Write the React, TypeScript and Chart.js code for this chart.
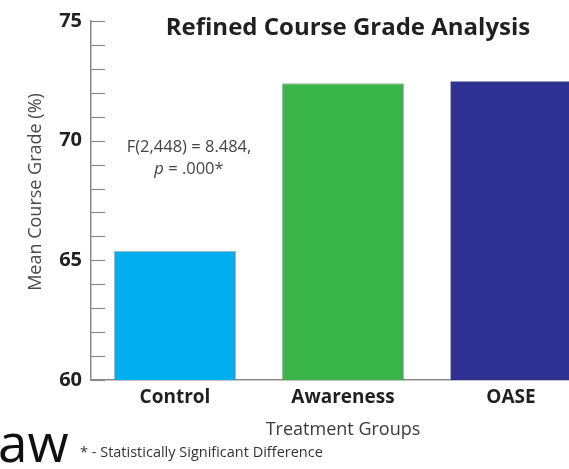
import React, { useEffect, useRef } from "react";
import { Chart, registerables } from "chart.js";

Chart.register(...registerables);

const categories = ["Control", "Awareness", "OASE"];
const meanGrades = [65.4, 72.4, 72.5];
const barColors = ["#00AEEF", "#39B54A", "#2E3192"];
const yMin = 60;
const yMax = 75;
const chartTitle = "Refined Course Grade Analysis";
const yTitle = "Mean Course Grade (%)";
const xTitle = "Treatment Groups";
const statLine1 = "F(2,448) = 8.484,";
const statLine2P = "p";
const statLine2Rest = " = .000*";
const footnote = "* - Statistically Significant Difference";
const fragment = "aw";

const FONT = '"Open Sans", "DejaVu Sans", sans-serif';

const innerTicks = {
  id: "innerTicks",
  afterDatasetsDraw(chart: any) {
    const { ctx } = chart;
    const y = chart.scales.y;
    const left = chart.chartArea.left;
    ctx.save();
    ctx.strokeStyle = "#8a8a8a";
    ctx.lineWidth = 1.2;
    y.ticks.forEach((t: any) => {
      const py = Math.round(y.getPixelForValue(t.value)) + 0.5;
      ctx.beginPath();
      ctx.moveTo(left, py);
      ctx.lineTo(left + 14, py);
      ctx.stroke();
    });
    ctx.restore();
  },
};

const texts = {
  id: "texts",
  afterDraw(chart: any) {
    const { ctx } = chart;
    ctx.save();
    // title
    ctx.fillStyle = "#231f20";
    ctx.font = `bold 24px ${FONT}`;
    ctx.textAlign = "center";
    ctx.textBaseline = "middle";
    ctx.fillText(chartTitle, 348, 28);

    // y axis title
    ctx.save();
    ctx.translate(36, 192);
    ctx.rotate(-Math.PI / 2);
    ctx.fillStyle = "#4a4a4a";
    ctx.font = `18px ${FONT}`;
    ctx.fillText(yTitle, 0, 0);
    ctx.restore();

    // stats annotation
    ctx.fillStyle = "#444";
    ctx.font = `16.5px ${FONT}`;
    ctx.fillText(statLine1, 189, 147);
    ctx.font = `italic 16.5px ${FONT}`;
    const wp = ctx.measureText(statLine2P).width;
    ctx.font = `16.5px ${FONT}`;
    const wr = ctx.measureText(statLine2Rest).width;
    const startX = 189 - (wp + wr) / 2;
    ctx.textAlign = "left";
    ctx.font = `italic 16.5px ${FONT}`;
    ctx.fillText(statLine2P, startX, 169);
    ctx.font = `16.5px ${FONT}`;
    ctx.fillText(statLine2Rest, startX + wp, 169);

    // footnote
    ctx.fillStyle = "#333";
    ctx.font = `14.5px ${FONT}`;
    ctx.textBaseline = "alphabetic";
    ctx.fillText(footnote, 80, 457);

    // fragment
    ctx.fillStyle = "#111";
    ctx.font = `53px ${FONT}`;
    ctx.fillText(fragment, -2, 462);
    ctx.restore();
  },
};

export default function App() {
  const ref = useRef<HTMLCanvasElement | null>(null);
  useEffect(() => {
    if (!ref.current) return;
    Chart.defaults.font.family = FONT;
    const chart = new Chart(ref.current, {
      type: "bar",
      data: {
        labels: categories,
        datasets: [
          {
            data: meanGrades,
            backgroundColor: barColors,
            borderColor: "rgba(110,110,110,0.55)",
            borderWidth: 1,
            categoryPercentage: 1,
            barPercentage: 0.726,
          },
        ],
      },
      options: {
        animation: false,
        responsive: false,
        maintainAspectRatio: false,
        layout: { padding: { top: 18, left: 0, right: 0, bottom: 0 } },
        plugins: {
          legend: { display: false },
          tooltip: { enabled: false },
          title: { display: false },
        },
        scales: {
          x: {
            offset: true,
            grid: { display: false, drawTicks: false },
            border: { display: true, color: "#8a8a8a", width: 1.5 },
            ticks: {
              color: "#231f20",
              font: { size: 19, weight: "bold", family: FONT },
              padding: 6,
              maxRotation: 0,
            },
            title: {
              display: true,
              text: xTitle,
              color: "#3a3a3a",
              font: { size: 18, family: FONT },
              padding: { top: 0, bottom: 28 },
            },
            afterFit: (s: any) => {
              s.height = 89;
            },
          },
          y: {
            min: yMin,
            max: yMax,
            grid: { display: false, drawTicks: false },
            border: { display: true, color: "#8a8a8a", width: 1.5 },
            ticks: {
              stepSize: 1,
              autoSkip: false,
              color: "#231f20",
              font: { size: 20, weight: "bold", family: FONT },
              padding: 9,
              callback: (v: any) => (Number(v) % 5 === 0 ? String(v) : ""),
            },
            afterFit: (s: any) => {
              s.width = 91;
            },
          },
        },
      },
      plugins: [innerTicks, texts],
    });
    return () => chart.destroy();
  }, []);
  return (
    <div
      style={{
        position: "fixed",
        left: 0,
        top: 0,
        width: 569,
        height: 469,
        overflow: "hidden",
        background: "#fff",
      }}
    >
      <canvas ref={ref} width={595} height={469} style={{ display: "block" }} />
    </div>
  );
}
